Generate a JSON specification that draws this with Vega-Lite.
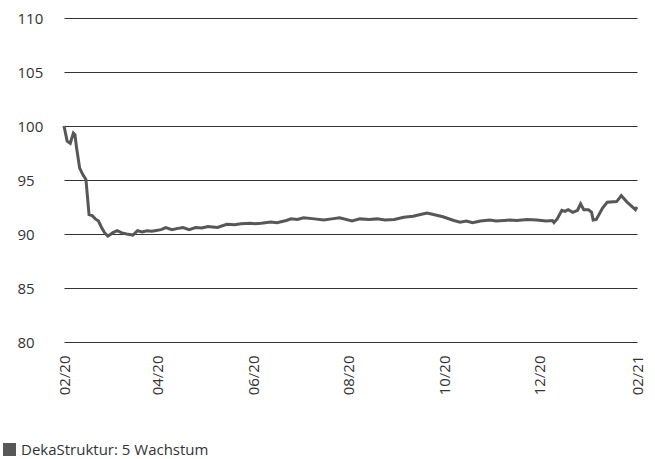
{
  "$schema": "https://vega.github.io/schema/vega-lite/v6.json",
  "width": 573,
  "height": 324,
  "autosize": "none",
  "padding": {"left": 64, "top": 18, "right": 18, "bottom": 117},
  "background": "white",
  "config": {
    "view": {"stroke": null},
    "font": "Open Sans",
    "axis": {"labelFont": "Open Sans", "labelColor": "#333333", "labelFontSize": 15}
  },
  "data": {"values": [
    {"date": "2020-02-20", "value": 100.0, "series": "DekaStruktur: 5 Wachstum"},
    {"date": "2020-02-22", "value": 98.6, "series": "DekaStruktur: 5 Wachstum"},
    {"date": "2020-02-24", "value": 98.4, "series": "DekaStruktur: 5 Wachstum"},
    {"date": "2020-02-26", "value": 99.35, "series": "DekaStruktur: 5 Wachstum"},
    {"date": "2020-02-27", "value": 99.2, "series": "DekaStruktur: 5 Wachstum"},
    {"date": "2020-02-28", "value": 98.0, "series": "DekaStruktur: 5 Wachstum"},
    {"date": "2020-03-01", "value": 96.1, "series": "DekaStruktur: 5 Wachstum"},
    {"date": "2020-03-03", "value": 95.5, "series": "DekaStruktur: 5 Wachstum"},
    {"date": "2020-03-05", "value": 95.05, "series": "DekaStruktur: 5 Wachstum"},
    {"date": "2020-03-07", "value": 91.8, "series": "DekaStruktur: 5 Wachstum"},
    {"date": "2020-03-09", "value": 91.7, "series": "DekaStruktur: 5 Wachstum"},
    {"date": "2020-03-11", "value": 91.4, "series": "DekaStruktur: 5 Wachstum"},
    {"date": "2020-03-13", "value": 91.2, "series": "DekaStruktur: 5 Wachstum"},
    {"date": "2020-03-15", "value": 90.6, "series": "DekaStruktur: 5 Wachstum"},
    {"date": "2020-03-17", "value": 90.1, "series": "DekaStruktur: 5 Wachstum"},
    {"date": "2020-03-19", "value": 89.8, "series": "DekaStruktur: 5 Wachstum"},
    {"date": "2020-03-22", "value": 90.1, "series": "DekaStruktur: 5 Wachstum"},
    {"date": "2020-03-25", "value": 90.3, "series": "DekaStruktur: 5 Wachstum"},
    {"date": "2020-03-28", "value": 90.1, "series": "DekaStruktur: 5 Wachstum"},
    {"date": "2020-03-31", "value": 90.0, "series": "DekaStruktur: 5 Wachstum"},
    {"date": "2020-04-04", "value": 89.9, "series": "DekaStruktur: 5 Wachstum"},
    {"date": "2020-04-07", "value": 90.3, "series": "DekaStruktur: 5 Wachstum"},
    {"date": "2020-04-10", "value": 90.2, "series": "DekaStruktur: 5 Wachstum"},
    {"date": "2020-04-13", "value": 90.3, "series": "DekaStruktur: 5 Wachstum"},
    {"date": "2020-04-16", "value": 90.25, "series": "DekaStruktur: 5 Wachstum"},
    {"date": "2020-04-18", "value": 90.3, "series": "DekaStruktur: 5 Wachstum"},
    {"date": "2020-04-22", "value": 90.4, "series": "DekaStruktur: 5 Wachstum"},
    {"date": "2020-04-25", "value": 90.6, "series": "DekaStruktur: 5 Wachstum"},
    {"date": "2020-04-29", "value": 90.4, "series": "DekaStruktur: 5 Wachstum"},
    {"date": "2020-05-02", "value": 90.5, "series": "DekaStruktur: 5 Wachstum"},
    {"date": "2020-05-06", "value": 90.6, "series": "DekaStruktur: 5 Wachstum"},
    {"date": "2020-05-10", "value": 90.4, "series": "DekaStruktur: 5 Wachstum"},
    {"date": "2020-05-14", "value": 90.6, "series": "DekaStruktur: 5 Wachstum"},
    {"date": "2020-05-18", "value": 90.55, "series": "DekaStruktur: 5 Wachstum"},
    {"date": "2020-05-22", "value": 90.7, "series": "DekaStruktur: 5 Wachstum"},
    {"date": "2020-05-28", "value": 90.6, "series": "DekaStruktur: 5 Wachstum"},
    {"date": "2020-06-03", "value": 90.9, "series": "DekaStruktur: 5 Wachstum"},
    {"date": "2020-06-08", "value": 90.85, "series": "DekaStruktur: 5 Wachstum"},
    {"date": "2020-06-12", "value": 90.95, "series": "DekaStruktur: 5 Wachstum"},
    {"date": "2020-06-18", "value": 91.0, "series": "DekaStruktur: 5 Wachstum"},
    {"date": "2020-06-21", "value": 90.95, "series": "DekaStruktur: 5 Wachstum"},
    {"date": "2020-06-25", "value": 91.0, "series": "DekaStruktur: 5 Wachstum"},
    {"date": "2020-07-01", "value": 91.1, "series": "DekaStruktur: 5 Wachstum"},
    {"date": "2020-07-05", "value": 91.05, "series": "DekaStruktur: 5 Wachstum"},
    {"date": "2020-07-11", "value": 91.25, "series": "DekaStruktur: 5 Wachstum"},
    {"date": "2020-07-14", "value": 91.4, "series": "DekaStruktur: 5 Wachstum"},
    {"date": "2020-07-18", "value": 91.35, "series": "DekaStruktur: 5 Wachstum"},
    {"date": "2020-07-22", "value": 91.5, "series": "DekaStruktur: 5 Wachstum"},
    {"date": "2020-07-29", "value": 91.4, "series": "DekaStruktur: 5 Wachstum"},
    {"date": "2020-08-04", "value": 91.3, "series": "DekaStruktur: 5 Wachstum"},
    {"date": "2020-08-09", "value": 91.4, "series": "DekaStruktur: 5 Wachstum"},
    {"date": "2020-08-14", "value": 91.5, "series": "DekaStruktur: 5 Wachstum"},
    {"date": "2020-08-22", "value": 91.2, "series": "DekaStruktur: 5 Wachstum"},
    {"date": "2020-08-27", "value": 91.4, "series": "DekaStruktur: 5 Wachstum"},
    {"date": "2020-09-02", "value": 91.35, "series": "DekaStruktur: 5 Wachstum"},
    {"date": "2020-09-07", "value": 91.4, "series": "DekaStruktur: 5 Wachstum"},
    {"date": "2020-09-12", "value": 91.3, "series": "DekaStruktur: 5 Wachstum"},
    {"date": "2020-09-18", "value": 91.35, "series": "DekaStruktur: 5 Wachstum"},
    {"date": "2020-09-24", "value": 91.55, "series": "DekaStruktur: 5 Wachstum"},
    {"date": "2020-09-30", "value": 91.65, "series": "DekaStruktur: 5 Wachstum"},
    {"date": "2020-10-06", "value": 91.85, "series": "DekaStruktur: 5 Wachstum"},
    {"date": "2020-10-09", "value": 91.95, "series": "DekaStruktur: 5 Wachstum"},
    {"date": "2020-10-13", "value": 91.8, "series": "DekaStruktur: 5 Wachstum"},
    {"date": "2020-10-19", "value": 91.6, "series": "DekaStruktur: 5 Wachstum"},
    {"date": "2020-10-26", "value": 91.25, "series": "DekaStruktur: 5 Wachstum"},
    {"date": "2020-10-30", "value": 91.1, "series": "DekaStruktur: 5 Wachstum"},
    {"date": "2020-11-03", "value": 91.2, "series": "DekaStruktur: 5 Wachstum"},
    {"date": "2020-11-07", "value": 91.05, "series": "DekaStruktur: 5 Wachstum"},
    {"date": "2020-11-12", "value": 91.2, "series": "DekaStruktur: 5 Wachstum"},
    {"date": "2020-11-18", "value": 91.3, "series": "DekaStruktur: 5 Wachstum"},
    {"date": "2020-11-22", "value": 91.2, "series": "DekaStruktur: 5 Wachstum"},
    {"date": "2020-11-27", "value": 91.25, "series": "DekaStruktur: 5 Wachstum"},
    {"date": "2020-12-01", "value": 91.3, "series": "DekaStruktur: 5 Wachstum"},
    {"date": "2020-12-05", "value": 91.25, "series": "DekaStruktur: 5 Wachstum"},
    {"date": "2020-12-12", "value": 91.35, "series": "DekaStruktur: 5 Wachstum"},
    {"date": "2020-12-18", "value": 91.3, "series": "DekaStruktur: 5 Wachstum"},
    {"date": "2020-12-24", "value": 91.2, "series": "DekaStruktur: 5 Wachstum"},
    {"date": "2020-12-28", "value": 91.25, "series": "DekaStruktur: 5 Wachstum"},
    {"date": "2020-12-29", "value": 91.05, "series": "DekaStruktur: 5 Wachstum"},
    {"date": "2020-12-31", "value": 91.4, "series": "DekaStruktur: 5 Wachstum"},
    {"date": "2021-01-03", "value": 92.2, "series": "DekaStruktur: 5 Wachstum"},
    {"date": "2021-01-05", "value": 92.1, "series": "DekaStruktur: 5 Wachstum"},
    {"date": "2021-01-07", "value": 92.25, "series": "DekaStruktur: 5 Wachstum"},
    {"date": "2021-01-10", "value": 92.0, "series": "DekaStruktur: 5 Wachstum"},
    {"date": "2021-01-13", "value": 92.2, "series": "DekaStruktur: 5 Wachstum"},
    {"date": "2021-01-15", "value": 92.8, "series": "DekaStruktur: 5 Wachstum"},
    {"date": "2021-01-17", "value": 92.25, "series": "DekaStruktur: 5 Wachstum"},
    {"date": "2021-01-20", "value": 92.25, "series": "DekaStruktur: 5 Wachstum"},
    {"date": "2021-01-22", "value": 92.0, "series": "DekaStruktur: 5 Wachstum"},
    {"date": "2021-01-23", "value": 91.3, "series": "DekaStruktur: 5 Wachstum"},
    {"date": "2021-01-25", "value": 91.35, "series": "DekaStruktur: 5 Wachstum"},
    {"date": "2021-01-29", "value": 92.4, "series": "DekaStruktur: 5 Wachstum"},
    {"date": "2021-02-01", "value": 92.95, "series": "DekaStruktur: 5 Wachstum"},
    {"date": "2021-02-07", "value": 93.0, "series": "DekaStruktur: 5 Wachstum"},
    {"date": "2021-02-10", "value": 93.55, "series": "DekaStruktur: 5 Wachstum"},
    {"date": "2021-02-14", "value": 92.9, "series": "DekaStruktur: 5 Wachstum"},
    {"date": "2021-02-19", "value": 92.25, "series": "DekaStruktur: 5 Wachstum"},
    {"date": "2021-02-20", "value": 92.5, "series": "DekaStruktur: 5 Wachstum"}
  ]},
  "mark": {"type": "line", "strokeWidth": 3, "interpolate": "linear"},
  "encoding": {
    "x": {
      "field": "date",
      "type": "temporal",
      "scale": {"type": "utc", "domain": [
        {"year": 2020, "month": 2, "date": 20, "utc": true},
        {"year": 2021, "month": 2, "date": 20, "utc": true}
      ]},
      "axis": {
        "title": null,
        "format": "%m/%y",
        "values": [
          {"year": 2020, "month": 2, "date": 20, "utc": true},
          {"year": 2020, "month": 4, "date": 20, "utc": true},
          {"year": 2020, "month": 6, "date": 20, "utc": true},
          {"year": 2020, "month": 8, "date": 20, "utc": true},
          {"year": 2020, "month": 10, "date": 20, "utc": true},
          {"year": 2020, "month": 12, "date": 20, "utc": true},
          {"year": 2021, "month": 2, "date": 20, "utc": true}
        ],
        "grid": false,
        "domain": false,
        "ticks": false,
        "labelAngle": -90,
        "labelAlign": "right",
        "labelBaseline": "middle",
        "labelPadding": 13,
        "labelFlush": false,
        "labelOverlap": false
      }
    },
    "y": {
      "field": "value",
      "type": "quantitative",
      "scale": {"domain": [80, 110], "nice": false, "zero": false},
      "axis": {
        "title": null,
        "values": [80, 85, 90, 95, 100, 105, 110],
        "grid": true,
        "gridColor": "#333333",
        "gridWidth": 1.2,
        "domain": false,
        "ticks": false,
        "labelAlign": "left",
        "labelBaseline": "middle",
        "labelPadding": 47
      }
    },
    "color": {
      "field": "series",
      "type": "nominal",
      "scale": {"range": ["#575757"]},
      "legend": {
        "title": null,
        "orient": "none",
        "legendX": -62,
        "legendY": 424,
        "symbolType": "square",
        "symbolSize": 169,
        "symbolFillColor": "#575757",
        "symbolStrokeWidth": 0,
        "symbolOffset": 0,
        "labelFont": "Open Sans",
        "labelFontSize": 15,
        "labelColor": "#333333",
        "labelOffset": 4,
        "labelLimit": 0,
        "padding": 0
      }
    }
  }
}
